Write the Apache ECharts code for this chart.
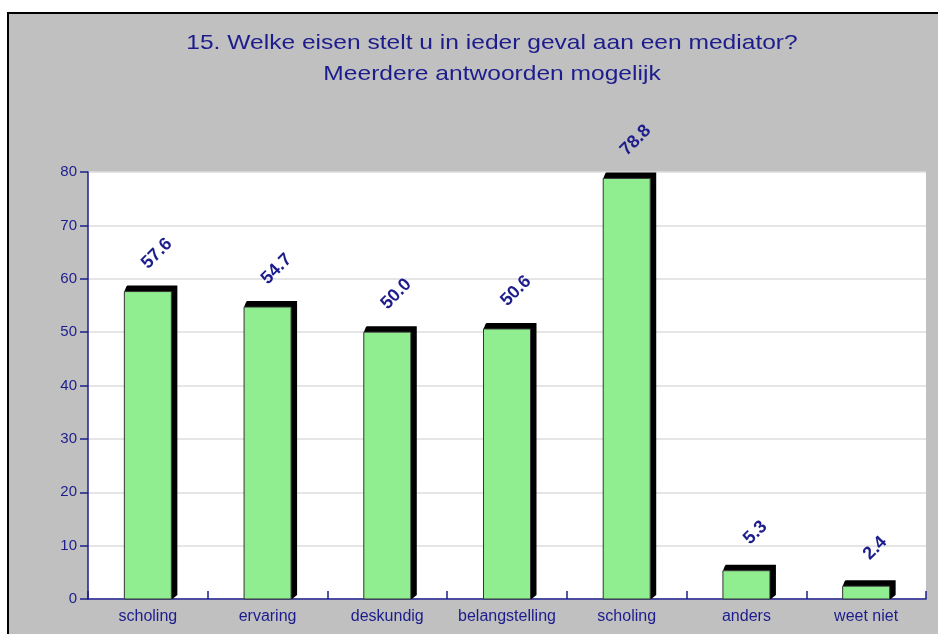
<!DOCTYPE html>
<html><head><meta charset="utf-8">
<script src="https://cdn.jsdelivr.net/npm/echarts@6/dist/echarts.min.js"></script>
<style>html,body{margin:0;padding:0;background:#fff}#c{width:938px;height:634px}</style>
</head><body><div id="c"></div>
<script>
var titleLines = ['15. Welke eisen stelt u in ieder geval aan een mediator?', 'Meerdere antwoorden mogelijk'];
var categories = ['scholing', 'ervaring', 'deskundig', 'belangstelling', 'scholing', 'anders', 'weet niet'];
var values = [57.6, 54.7, 50.0, 50.6, 78.8, 5.3, 2.4];
var yTicks = [0, 10, 20, 30, 40, 50, 60, 70, 80];

var navy = '#1c1c8c';
var chart = echarts.init(document.getElementById('c'), null, {renderer: 'canvas'});
var D = 6;
var titleGraphics = titleLines.map(function (t, i) {
  return {
    type: 'text', x: 492, y: 43 + i * 31, scaleX: 1.17, z: 5, silent: true,
    style: {text: t, fill: navy, font: '21px Liberation Sans, Arial', align: 'center', verticalAlign: 'middle'}
  };
});
chart.setOption({
  backgroundColor: '#ffffff',
  animation: false,
  graphic: [{
    type: 'rect', z: -10, silent: true,
    shape: {x: 8, y: 13, width: 960, height: 660},
    style: {fill: '#c0c0c0', stroke: '#000', lineWidth: 2}
  }].concat(titleGraphics),
  grid: {left: 88, top: 172, right: 12, bottom: 35, show: true, backgroundColor: '#ffffff', borderWidth: 0},
  xAxis: {
    type: 'category', data: categories,
    axisLine: {lineStyle: {color: navy, width: 1.5}},
    axisTick: {show: true, inside: true, length: 8, interval: 0, lineStyle: {color: navy, width: 1.5}},
    axisLabel: {color: navy, fontFamily: 'Liberation Sans, Arial', fontSize: 16, margin: 10, interval: 0, hideOverlap: false},
    splitLine: {show: false}
  },
  yAxis: {
    type: 'value', min: yTicks[0], max: yTicks[yTicks.length - 1], interval: 10,
    axisLine: {show: true, lineStyle: {color: navy, width: 1.5}},
    axisTick: {show: true, length: 8, lineStyle: {color: navy, width: 1.5}},
    axisLabel: {color: navy, fontFamily: 'Liberation Sans, Arial', fontSize: 15, margin: 11},
    splitLine: {lineStyle: {color: '#dcdcdc', width: 1.5}}
  },
  series: [{
    type: 'custom',
    data: values.map(function (v, i) { return [i, v]; }),
    renderItem: function (params, api) {
      var top = api.coord([api.value(0), api.value(1)]);
      var base = api.coord([api.value(0), 0]);
      var w = 47;
      var x0 = top[0] - w / 2, x1 = top[0] + w / 2, y0 = top[1], yb = base[1];
      return {
        type: 'group',
        children: [
          {type: 'polygon', shape: {points: [[x0, y0], [x0 + 2, y0 - D + 1], [x0 + 3, y0 - D], [x1 + D, y0 - D], [x1 + D, yb - D + 2], [x1 + 1, yb], [x1, yb], [x1, y0]]},
            style: {fill: '#000'}},
          {type: 'rect', shape: {x: x0, y: y0, width: w, height: yb - y0},
            style: {fill: '#90ee90', stroke: '#333', lineWidth: 1}},
          {type: 'text', x: top[0] + 9, y: y0 - 38, rotation: Math.PI / 4,
            style: {text: api.value(1).toFixed(1), fill: navy, font: 'bold 18px Liberation Sans, Arial', align: 'center', verticalAlign: 'middle'}}
        ]
      };
    }
  }]
});
</script></body></html>
